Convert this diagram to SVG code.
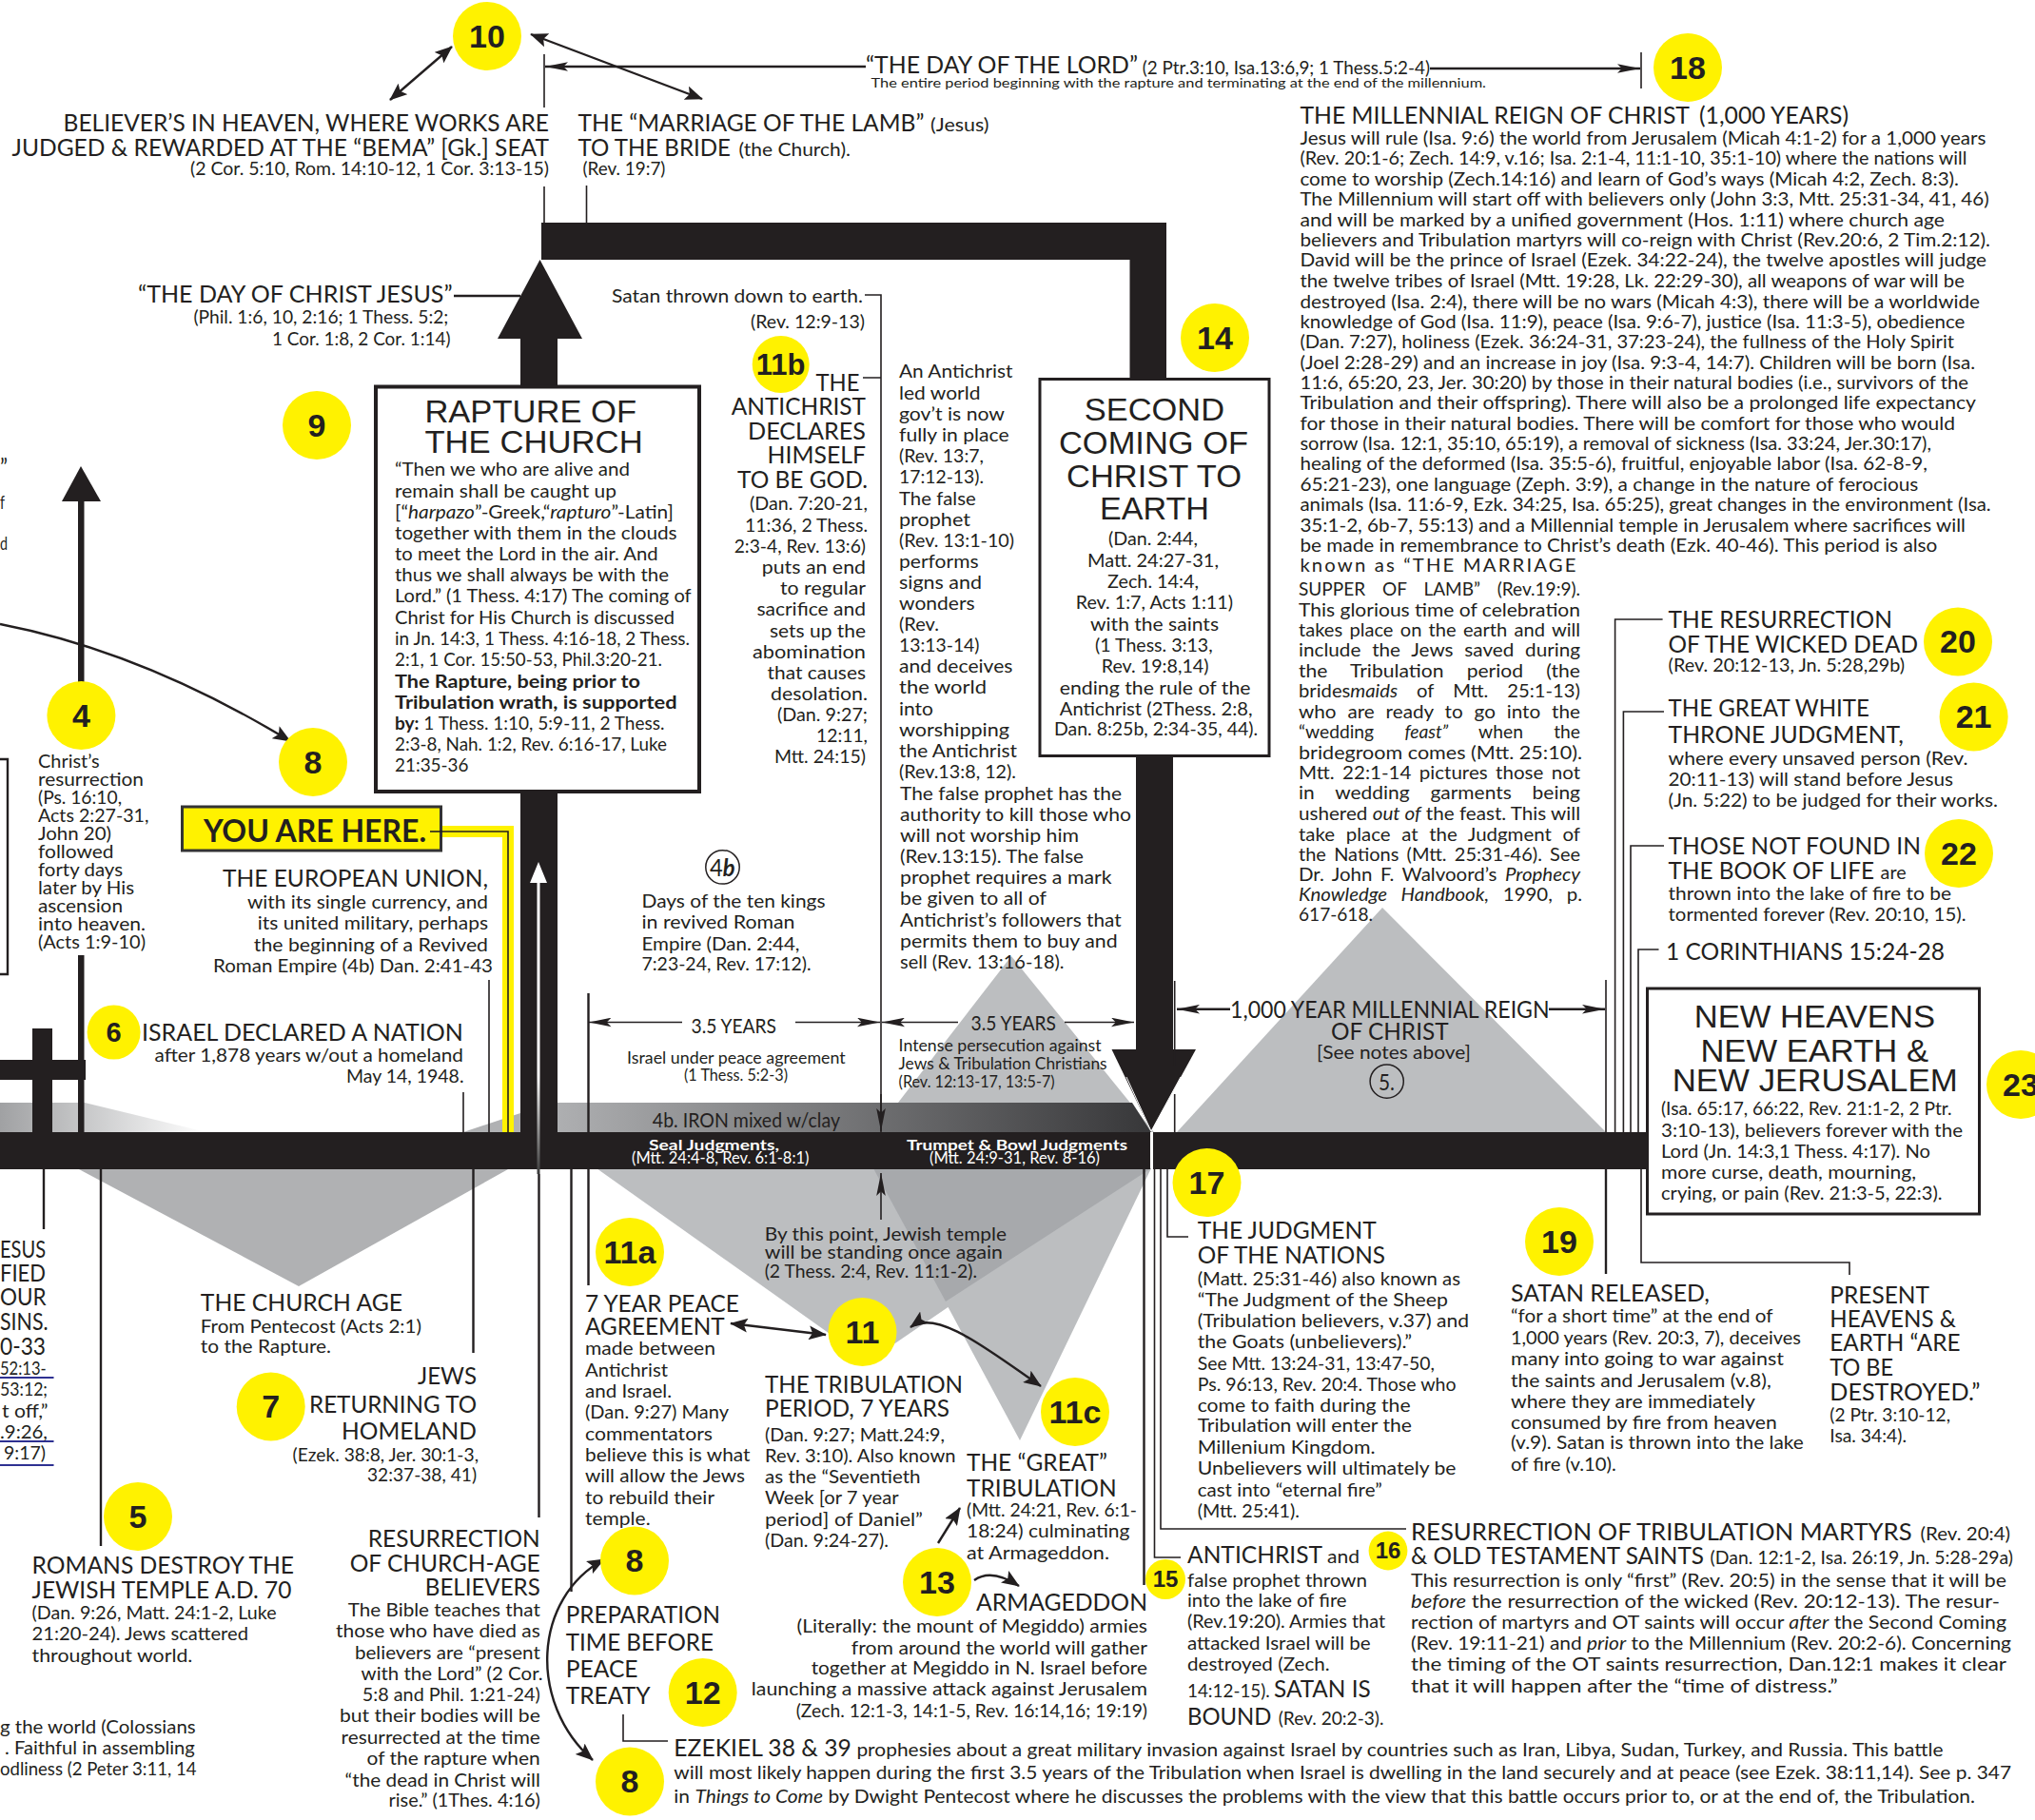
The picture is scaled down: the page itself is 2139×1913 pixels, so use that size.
<svg xmlns="http://www.w3.org/2000/svg" width="2139" height="1913" viewBox="0 0 2139 1913">
<style>
text{fill:#231f20;font-family:"Lato","Open Sans","Liberation Sans",sans-serif}
.h{font-size:25px}.b{font-size:19px}.s{font-size:17px}
.t{font-family:"Liberation Sans",sans-serif;font-size:33px}
.n{font-family:"Liberation Sans",sans-serif;font-weight:bold;font-size:34px;text-anchor:middle}
.y{fill:#fff200}
.l{fill:none;stroke:#231f20;stroke-width:1.6}
.m{fill:none;stroke:#231f20;stroke-width:2.4}
.k{fill:#231f20}
.box{fill:#fff;stroke:#231f20}
.i{font-style:italic}
.w{fill:#fff}
</style>
<defs>
<marker id="ah" viewBox="0 0 10 8" refX="9.5" refY="4" markerWidth="19" markerHeight="15" markerUnits="userSpaceOnUse" orient="auto-start-reverse"><path d="M0,0L10,4L0,8L2,4z" fill="#231f20"/></marker>
<marker id="al" viewBox="0 0 10 4" refX="10" refY="2" markerWidth="24" markerHeight="10" markerUnits="userSpaceOnUse" orient="auto-start-reverse"><path d="M0,0L10,2L0,4L2,2z" fill="#231f20"/></marker>
<linearGradient id="g1" gradientUnits="userSpaceOnUse" x1="0" y1="0" x2="217" y2="0"><stop offset="0" stop-color="#a0a1a3"/><stop offset="1" stop-color="#fff"/></linearGradient>
<linearGradient id="g2" gradientUnits="userSpaceOnUse" x1="586" y1="0" x2="1205" y2="0"><stop offset="0" stop-color="#aeafb1"/><stop offset="1" stop-color="#38383a"/></linearGradient>
<linearGradient id="g3" gradientUnits="userSpaceOnUse" x1="0" y1="1130" x2="0" y2="1234"><stop offset="0" stop-color="#fff"/><stop offset="1" stop-color="#3a3a3a"/></linearGradient>
</defs>
<g id="backdrops">
<polygon points="0,1159 89,1159 217,1190 0,1190" fill="url(#g1)"/>
<polygon points="487,1190 547,1170 547,1190" fill="#b0b1b3"/>
<polygon points="83,1229 314,1352 534,1229" fill="#b0b1b3"/>
<polygon points="1063,1005 1213,1190 920,1190" fill="#bcbec0"/>
<polygon points="586,1159 1190,1159 1210,1190 586,1190" fill="url(#g2)"/>
<polygon points="627,1228 913,1431 1210,1228" fill="#bcbec0"/>
<polygon points="918,1228 1072,1514 1210,1228" fill="#bcbec0"/>
<polygon points="918,1228 994,1368 1210,1228" fill="#a7a9ac"/>
<polygon points="1453,954 1688,1190 1237,1190" fill="#bcbec0"/>
<rect x="528" y="1170" width="12" height="20" class="y"/>
</g>
<g id="yellow-path">
<path d="M464,874H534V1190" fill="none" stroke="#fff200" stroke-width="12"/>
</g>
<g id="timeline">
<rect x="0" y="1190" width="1209" height="39" class="k"/>
<rect x="1212" y="1190" width="518" height="39" class="k"/>
<path class="k" d="M569,234H1226V400H1187.500V273H569z"/>
<rect x="547" y="350" width="39" height="840" class="k"/>
<polygon points="567.500,273 612,356 523,356" class="k"/>
<rect x="1194" y="790" width="39" height="320" class="k"/>
<polygon points="1168.500,1103 1257,1103 1210,1189" class="k"/>
<path d="M1184,1132L1210,1189L1241,1132" fill="none" stroke="#fff" stroke-width="1"/>
<rect x="82" y="520" width="6.500" height="200" class="k"/>
<rect x="82" y="1004" width="6.500" height="186" class="k"/>
<polygon points="85,490 106,527 65,527" class="k"/>
<rect x="34" y="1081" width="21" height="110" class="k"/>
<rect x="0" y="1114" width="90" height="21" class="k"/>
<rect x="564.500" y="928" width="3" height="306" fill="url(#g3)"/>
<polygon points="566,906 575,928 557,928" class="w"/>
</g>
<g id="connectors">
<path class="l" d="M572,57V113M572,196V234M616.500,195V234"/>
<path class="l" d="M1725,55V93"/>
<path class="m" d="M910,70H573" marker-end="url(#al)"/>
<path class="m" d="M1503,72H1724" marker-end="url(#al)"/>
<path class="m" d="M475,49L410,105" marker-start="url(#ah)" marker-end="url(#ah)"/>
<path class="m" d="M558,36L738,104" marker-start="url(#ah)" marker-end="url(#ah)"/>
<path class="m" d="M477,311H547"/>
<path class="l" d="M909,310H926V1190M907,397H926"/>
<path class="l" d="M926,1150V1189" marker-end="url(#al)"/>
<path class="l" d="M926,1282V1233" marker-end="url(#al)"/>
<path class="m" d="M0,656Q150,685 305,779" marker-end="url(#ah)"/>
<path class="l" d="M452,874H534V1190"/>
<path class="l" d="M514,1030V1190M487,1148V1190"/>
<path class="m" d="M46,1229V1292M106,1229V1625M497.500,1229V1422M566.500,1234V1595M600.500,1229V1673M618.500,1044V1190M618.500,1229V1351"/>
<path class="l" d="M618.500,1074.500H717" marker-start="url(#al)"/>
<path class="l" d="M836,1074.500H925" marker-end="url(#al)"/>
<path class="l" d="M927,1074.500H1007" marker-start="url(#al)"/>
<path class="l" d="M1119,1074.500H1192" marker-end="url(#al)"/>
<path class="m" d="M1237,1060.700H1293" marker-start="url(#al)"/>
<path class="m" d="M1628,1060.700H1687" marker-end="url(#al)"/>
<path class="l" d="M1234.700,1031V1120M1234.700,1150V1190M1688,1030V1190"/>
<path class="l" d="M1747.600,651H1697.600V1190M1749,748H1706.400V1190M1749,889H1714V1190M1743.500,998H1722V1190"/>
<path class="m" d="M1202.500,1228V1666"/>
<path class="l" d="M1213.500,1228V1637H1241M1220,1228V1607H1478M1227,1228V1300H1249"/>
<path class="m" d="M1688,1228V1339"/>
<path class="l" d="M1725,1228V1327H1944V1340"/>
<path class="l" d="M655,1802V1830H702"/>
<path class="m" d="M768,1391L868,1403" marker-start="url(#ah)" marker-end="url(#ah)"/>
<path class="m" d="M957,1395C985,1375 1040,1420 1094,1457" marker-start="url(#ah)" marker-end="url(#ah)"/>
<path class="m" d="M986,1622L1009,1585" marker-end="url(#ah)"/>
<path class="m" d="M1024,1661Q1042,1648 1071,1667" marker-end="url(#ah)"/>
<path class="m" d="M635,1639C560,1680 555,1790 623,1850" marker-start="url(#ah)" marker-end="url(#ah)"/>
<path d="M0,1448H56.500M0,1515H56.500M0,1540H56.500" fill="none" stroke="#2e3192" stroke-width="2"/>
<path d="M0,798H8V1024H0" fill="none" stroke="#231f20" stroke-width="2.400"/>
</g>
<g id="n10"><ellipse class="y" cx="512" cy="38" rx="36" ry="36"/><text class="n" x="512" y="50">10</text></g>
<g id="n18"><ellipse class="y" cx="1774" cy="71" rx="36" ry="36"/><text class="n" x="1774" y="83">18</text></g>
<g id="n9"><ellipse class="y" cx="333" cy="447" rx="36" ry="36"/><text class="n" x="333" y="459">9</text></g>
<g id="n11b"><ellipse class="y" cx="820.700" cy="383" rx="30" ry="30"/><text class="n" x="820.700" y="394" style="font-size:31px">11b</text></g>
<g id="n14"><ellipse class="y" cx="1277" cy="355" rx="36" ry="36"/><text class="n" x="1277" y="367">14</text></g>
<g id="n4"><ellipse class="y" cx="85.400" cy="752" rx="36" ry="36"/><text class="n" x="85.400" y="764">4</text></g>
<g id="n8a"><ellipse class="y" cx="329" cy="801" rx="36" ry="36"/><text class="n" x="329" y="813">8</text></g>
<g id="n6"><ellipse class="y" cx="119.600" cy="1085" rx="28" ry="28.600"/><text class="n" x="119.600" y="1095" style="font-size:29px">6</text></g>
<g id="n7"><ellipse class="y" cx="284.700" cy="1478.400" rx="36" ry="36"/><text class="n" x="284.700" y="1490">7</text></g>
<g id="n5"><ellipse class="y" cx="145" cy="1594" rx="36" ry="36"/><text class="n" x="145" y="1606">5</text></g>
<g id="n11a"><ellipse class="y" cx="662" cy="1316" rx="36" ry="36"/><text class="n" x="662" y="1328">11a</text></g>
<g id="n11"><ellipse class="y" cx="906.500" cy="1400" rx="36" ry="36"/><text class="n" x="906.500" y="1412">11</text></g>
<g id="n11c"><ellipse class="y" cx="1130" cy="1484" rx="36" ry="36"/><text class="n" x="1130" y="1496">11c</text></g>
<g id="n13"><ellipse class="y" cx="985" cy="1663" rx="36" ry="36"/><text class="n" x="985" y="1675">13</text></g>
<g id="n8b"><ellipse class="y" cx="667" cy="1640.600" rx="36" ry="36"/><text class="n" x="667" y="1652">8</text></g>
<g id="n12"><ellipse class="y" cx="738.700" cy="1779" rx="36" ry="36"/><text class="n" x="738.700" y="1791">12</text></g>
<g id="n8c"><ellipse class="y" cx="662" cy="1872.500" rx="36" ry="36"/><text class="n" x="662" y="1884">8</text></g>
<g id="n17"><ellipse class="y" cx="1268.500" cy="1243" rx="36" ry="36"/><text class="n" x="1268.500" y="1255">17</text></g>
<g id="n19"><ellipse class="y" cx="1639" cy="1305" rx="36" ry="36"/><text class="n" x="1639" y="1317">19</text></g>
<g id="n15"><ellipse class="y" cx="1225" cy="1660" rx="21" ry="21"/><text class="n" x="1225" y="1668" style="font-size:24px">15</text></g>
<g id="n16"><ellipse class="y" cx="1459" cy="1630" rx="20.400" ry="20.400"/><text class="n" x="1459" y="1638" style="font-size:24px">16</text></g>
<g id="n20"><ellipse class="y" cx="2058" cy="674.500" rx="36" ry="36"/><text class="n" x="2058" y="686">20</text></g>
<g id="n21"><ellipse class="y" cx="2074.600" cy="753.600" rx="36" ry="36"/><text class="n" x="2074.600" y="765">21</text></g>
<g id="n22"><ellipse class="y" cx="2059" cy="897" rx="36" ry="36"/><text class="n" x="2059" y="909">22</text></g>
<g id="n23"><ellipse class="y" cx="2124" cy="1140" rx="36" ry="36"/><text class="n" x="2124" y="1152">23</text></g>

<g id="rapture">
<rect class="box" x="395" y="406.500" width="340" height="425.500" stroke-width="4"/>
<text class="t" x="446.400" y="444" textLength="222.600" lengthAdjust="spacingAndGlyphs">RAPTURE OF</text>
<text class="t" x="446.400" y="476" textLength="229.300" lengthAdjust="spacingAndGlyphs">THE CHURCH</text>
<g class="b">
<text x="415" y="499.600" textLength="247" lengthAdjust="spacingAndGlyphs">“Then we who are alive and</text>
<text x="415" y="522.500" textLength="233" lengthAdjust="spacingAndGlyphs">remain shall be caught up</text>
<text x="415" y="544.500" textLength="293" lengthAdjust="spacingAndGlyphs">[“<tspan class="i">harpazo</tspan>”-Greek,“<tspan class="i">rapturo</tspan>”-Latin]</text>
<text x="415" y="566.500" textLength="296.600" lengthAdjust="spacingAndGlyphs">together with them in the clouds</text>
<text x="415" y="588.500" textLength="276.700" lengthAdjust="spacingAndGlyphs">to meet the Lord in the air. And</text>
<text x="415" y="611.400" textLength="288" lengthAdjust="spacingAndGlyphs">thus we shall always be with the</text>
<text x="415" y="633.300" textLength="311.600" lengthAdjust="spacingAndGlyphs">Lord.” (1 Thess. 4:17) The coming of</text>
<text x="415" y="655.500" textLength="294" lengthAdjust="spacingAndGlyphs">Christ for His Church is discussed</text>
<text x="415" y="677.500" textLength="310" lengthAdjust="spacingAndGlyphs">in Jn. 14:3, 1 Thess. 4:16-18, 2 Thess.</text>
<text x="415" y="699.600" textLength="281" lengthAdjust="spacingAndGlyphs">2:1, 1 Cor. 15:50-53, Phil.3:20-21.</text>
<text x="415" y="722.500" textLength="258" lengthAdjust="spacingAndGlyphs" font-weight="bold">The Rapture, being prior to</text>
<text x="415" y="744.500" textLength="296.600" lengthAdjust="spacingAndGlyphs" font-weight="bold">Tribulation wrath, is supported</text>
<text x="415" y="766.500" textLength="283.500" lengthAdjust="spacingAndGlyphs"><tspan font-weight="bold">by:</tspan> 1 Thess. 1:10, 5:9-11, 2 Thess.</text>
<text x="415" y="788.500" textLength="286" lengthAdjust="spacingAndGlyphs">2:3-8, Nah. 1:2, Rev. 6:16-17, Luke</text>
<text x="415" y="810.600" textLength="77.500" lengthAdjust="spacingAndGlyphs">21:35-36</text>
</g>
</g>
<g id="second-coming">
<rect class="box" x="1093" y="398.500" width="241" height="396" stroke-width="3"/>
<text class="t" x="1139.800" y="441.700" textLength="147.200" lengthAdjust="spacingAndGlyphs">SECOND</text>
<text class="t" x="1113" y="476.500" textLength="199" lengthAdjust="spacingAndGlyphs">COMING OF</text>
<text class="t" x="1121" y="512" textLength="184" lengthAdjust="spacingAndGlyphs">CHRIST TO</text>
<text class="t" x="1156" y="545.700" textLength="115" lengthAdjust="spacingAndGlyphs">EARTH</text>
<g class="b">
<text x="1165" y="573" textLength="94" lengthAdjust="spacingAndGlyphs">(Dan. 2:44,</text>
<text x="1143" y="596" textLength="138" lengthAdjust="spacingAndGlyphs">Matt. 24:27-31,</text>
<text x="1164" y="618" textLength="96" lengthAdjust="spacingAndGlyphs">Zech. 14:4,</text>
<text x="1130.700" y="640" textLength="165.300" lengthAdjust="spacingAndGlyphs">Rev. 1:7, Acts 1:11)</text>
<text x="1146" y="662.500" textLength="135" lengthAdjust="spacingAndGlyphs">with the saints</text>
<text x="1151" y="685" textLength="123.600" lengthAdjust="spacingAndGlyphs">(1 Thess. 3:13,</text>
<text x="1157.700" y="707" textLength="112.800" lengthAdjust="spacingAndGlyphs">Rev. 19:8,14)</text>
<text x="1113.800" y="729.500" textLength="200.700" lengthAdjust="spacingAndGlyphs">ending the rule of the</text>
<text x="1113.800" y="751.800" textLength="202.700" lengthAdjust="spacingAndGlyphs">Antichrist (2Thess. 2:8,</text>
<text x="1108" y="773" textLength="214" lengthAdjust="spacingAndGlyphs">Dan. 8:25b, 2:34-35, 44).</text>
</g>
</g>
<g id="new-heavens">
<rect class="box" x="1731.500" y="1039" width="349" height="237" stroke-width="3"/>
<text class="t" x="1780.700" y="1080" textLength="253.300" lengthAdjust="spacingAndGlyphs">NEW HEAVENS</text>
<text class="t" x="1787.400" y="1115.600" textLength="239.600" lengthAdjust="spacingAndGlyphs">NEW EARTH &amp;</text>
<text class="t" x="1757.700" y="1147" textLength="300" lengthAdjust="spacingAndGlyphs">NEW JERUSALEM</text>
<g class="b">
<text x="1746" y="1172" textLength="305.600" lengthAdjust="spacingAndGlyphs">(Isa. 65:17, 66:22, Rev. 21:1-2, 2 Ptr.</text>
<text x="1746" y="1194.600" textLength="317" lengthAdjust="spacingAndGlyphs">3:10-13), believers forever with the</text>
<text x="1746" y="1217" textLength="283" lengthAdjust="spacingAndGlyphs">Lord (Jn. 14:3,1 Thess. 4:17). No</text>
<text x="1746" y="1239" textLength="268" lengthAdjust="spacingAndGlyphs">more curse, death, mourning,</text>
<text x="1746" y="1260.700" textLength="295.500" lengthAdjust="spacingAndGlyphs">crying, or pain (Rev. 21:3-5, 22:3).</text>
</g>
</g>
<g id="you-are-here">
<rect class="y" x="191.500" y="848" width="272" height="46" stroke="#333" stroke-width="3"/>
<text x="214" y="885" textLength="234" lengthAdjust="spacingAndGlyphs" font-weight="bold" font-size="33">YOU ARE HERE.</text>
<path class="l" d="M452,874H465"/>
</g>
<g id="top-labels">
<text class="h" x="66.600" y="138" textLength="510.400" lengthAdjust="spacingAndGlyphs">BELIEVER’S IN HEAVEN, WHERE WORKS ARE</text>
<text class="h" x="12.600" y="164" textLength="564.400" lengthAdjust="spacingAndGlyphs">JUDGED &amp; REWARDED AT THE “BEMA” [Gk.] SEAT</text>
<text class="b" x="200" y="184" textLength="377" lengthAdjust="spacingAndGlyphs">(2 Cor. 5:10, Rom. 14:10-12, 1 Cor. 3:13-15)</text>
<text class="h" x="607.500" y="138" textLength="364" lengthAdjust="spacingAndGlyphs">THE “MARRIAGE OF THE LAMB”</text>
<text class="b" x="978" y="138" textLength="61.600" lengthAdjust="spacingAndGlyphs">(Jesus)</text>
<text class="h" x="607.500" y="164" textLength="160.500" lengthAdjust="spacingAndGlyphs">TO THE BRIDE</text>
<text class="b" x="776.600" y="164" textLength="117.400" lengthAdjust="spacingAndGlyphs">(the Church).</text>
<text class="b" x="612.400" y="184" textLength="87" lengthAdjust="spacingAndGlyphs">(Rev. 19:7)</text>
<text class="h" x="910" y="77" textLength="286" lengthAdjust="spacingAndGlyphs">“THE DAY OF THE LORD”</text>
<text class="b" x="1200.700" y="78" textLength="302.300" lengthAdjust="spacingAndGlyphs">(2 Ptr.3:10, Isa.13:6,9; 1 Thess.5:2-4)</text>
<text x="915.500" y="92" textLength="646.500" lengthAdjust="spacingAndGlyphs" font-size="14">The entire period beginning with the rapture and terminating at the end of the millennium.</text>
<text class="h" x="145" y="317.700" textLength="330.600" lengthAdjust="spacingAndGlyphs">“THE DAY OF CHRIST JESUS”</text>
<text class="b" x="203.400" y="340" textLength="268" lengthAdjust="spacingAndGlyphs">(Phil. 1:6, 10, 2:16; 1 Thess. 5:2;</text>
<text class="b" x="286" y="362.700" textLength="187.500" lengthAdjust="spacingAndGlyphs">1 Cor. 1:8, 2 Cor. 1:14)</text>
<text class="b" x="643" y="317.700" textLength="264" lengthAdjust="spacingAndGlyphs">Satan thrown down to earth.</text>
<text class="b" x="789" y="345" textLength="120" lengthAdjust="spacingAndGlyphs">(Rev. 12:9-13)</text>
</g>
<g id="antichrist-declares">
<text class="h" x="857.500" y="410.600" textLength="46" lengthAdjust="spacingAndGlyphs">THE</text>
<text class="h" x="768.700" y="436" textLength="141.300" lengthAdjust="spacingAndGlyphs">ANTICHRIST</text>
<text class="h" x="786" y="461.600" textLength="124" lengthAdjust="spacingAndGlyphs">DECLARES</text>
<text class="h" x="806.600" y="487" textLength="103.400" lengthAdjust="spacingAndGlyphs">HIMSELF</text>
<text class="h" x="775" y="512.600" textLength="137" lengthAdjust="spacingAndGlyphs">TO BE GOD.</text>
<g class="b">
<text x="788" y="536" textLength="124" lengthAdjust="spacingAndGlyphs">(Dan. 7:20-21,</text>
<text x="783" y="558.800" textLength="129" lengthAdjust="spacingAndGlyphs">11:36, 2 Thess.</text>
<text x="771.700" y="581" textLength="138.300" lengthAdjust="spacingAndGlyphs">2:3-4, Rev. 13:6)</text>
<text x="800.700" y="603" textLength="109.300" lengthAdjust="spacingAndGlyphs">puts an end</text>
<text x="820" y="625" textLength="90" lengthAdjust="spacingAndGlyphs">to regular</text>
<text x="795.400" y="647" textLength="114.600" lengthAdjust="spacingAndGlyphs">sacrifice and</text>
<text x="809" y="669.500" textLength="101" lengthAdjust="spacingAndGlyphs">sets up the</text>
<text x="791" y="691.800" textLength="119" lengthAdjust="spacingAndGlyphs">abomination</text>
<text x="806.600" y="714" textLength="103.400" lengthAdjust="spacingAndGlyphs">that causes</text>
<text x="810" y="736" textLength="102" lengthAdjust="spacingAndGlyphs">desolation.</text>
<text x="817" y="758" textLength="95" lengthAdjust="spacingAndGlyphs">(Dan. 9:27;</text>
<text x="858" y="780" textLength="54" lengthAdjust="spacingAndGlyphs">12:11,</text>
<text x="814" y="802" textLength="96" lengthAdjust="spacingAndGlyphs">Mtt. 24:15)</text>
</g>
</g>
<g id="antichrist-world" class="b">
<text x="945" y="397" textLength="119.500" lengthAdjust="spacingAndGlyphs">An Antichrist</text>
<text x="945" y="419.500" textLength="85.500" lengthAdjust="spacingAndGlyphs">led world</text>
<text x="945" y="442" textLength="111" lengthAdjust="spacingAndGlyphs">gov’t is now</text>
<text x="945" y="464.300" textLength="115.600" lengthAdjust="spacingAndGlyphs">fully in place</text>
<text x="945" y="486" textLength="89" lengthAdjust="spacingAndGlyphs">(Rev. 13:7,</text>
<text x="945" y="508" textLength="89" lengthAdjust="spacingAndGlyphs">17:12-13).</text>
<text x="945" y="530.500" textLength="80.700" lengthAdjust="spacingAndGlyphs">The false</text>
<text x="945" y="552.500" textLength="75" lengthAdjust="spacingAndGlyphs">prophet</text>
<text x="945" y="574.500" textLength="121" lengthAdjust="spacingAndGlyphs">(Rev. 13:1-10)</text>
<text x="945" y="597" textLength="83.600" lengthAdjust="spacingAndGlyphs">performs</text>
<text x="945" y="619" textLength="87" lengthAdjust="spacingAndGlyphs">signs and</text>
<text x="945" y="641" textLength="79.700" lengthAdjust="spacingAndGlyphs">wonders</text>
<text x="945" y="663" textLength="42" lengthAdjust="spacingAndGlyphs">(Rev.</text>
<text x="945" y="685" textLength="84.500" lengthAdjust="spacingAndGlyphs">13:13-14)</text>
<text x="945" y="707" textLength="119.500" lengthAdjust="spacingAndGlyphs">and deceives</text>
<text x="945" y="729" textLength="92" lengthAdjust="spacingAndGlyphs">the world</text>
<text x="945" y="751.600" textLength="36" lengthAdjust="spacingAndGlyphs">into</text>
<text x="945" y="774" textLength="116" lengthAdjust="spacingAndGlyphs">worshipping</text>
<text x="945" y="796" textLength="124" lengthAdjust="spacingAndGlyphs">the Antichrist</text>
<text x="945" y="818" textLength="123" lengthAdjust="spacingAndGlyphs">(Rev.13:8, 12).</text>
<text x="946" y="841" textLength="233" lengthAdjust="spacingAndGlyphs">The false prophet has the</text>
<text x="946" y="863" textLength="243" lengthAdjust="spacingAndGlyphs">authority to kill those who</text>
<text x="946" y="885" textLength="188" lengthAdjust="spacingAndGlyphs">will not worship him</text>
<text x="946" y="907" textLength="193" lengthAdjust="spacingAndGlyphs">(Rev.13:15). The false</text>
<text x="946" y="929" textLength="222.500" lengthAdjust="spacingAndGlyphs">prophet requires a mark</text>
<text x="946" y="951" textLength="154" lengthAdjust="spacingAndGlyphs">be given to all of</text>
<text x="946" y="974" textLength="232.600" lengthAdjust="spacingAndGlyphs">Antichrist’s followers that</text>
<text x="946" y="996" textLength="228.600" lengthAdjust="spacingAndGlyphs">permits them to buy and</text>
<text x="946" y="1018" textLength="172.500" lengthAdjust="spacingAndGlyphs">sell (Rev. 13:16-18).</text>
</g>
<g id="millennial">
<text class="h" x="1366.400" y="129.700" textLength="409.600" lengthAdjust="spacingAndGlyphs">THE MILLENNIAL REIGN OF CHRIST</text>
<text class="h" x="1786" y="129.700" textLength="157" lengthAdjust="spacingAndGlyphs">(1,000 YEARS)</text>
<g class="b">
<text x="1366.400" y="152" textLength="721" lengthAdjust="spacingAndGlyphs">Jesus will rule (Isa. 9:6) the world from Jerusalem (Micah 4:1-2) for a 1,000 years</text>
<text x="1366.400" y="173" textLength="701" lengthAdjust="spacingAndGlyphs">(Rev. 20:1-6; Zech. 14:9, v.16; Isa. 2:1-4, 11:1-10, 35:1-10) where the nations will</text>
<text x="1366.400" y="195" textLength="692.600" lengthAdjust="spacingAndGlyphs">come to worship (Zech.14:16) and learn of God’s ways (Micah 4:2, Zech. 8:3).</text>
<text x="1366.400" y="216" textLength="724.300" lengthAdjust="spacingAndGlyphs">The Millennium will start off with believers only (John 3:3, Mtt. 25:31-34, 41, 46)</text>
<text x="1366.400" y="238" textLength="677.600" lengthAdjust="spacingAndGlyphs">and will be marked by a unified government (Hos. 1:11) where church age</text>
<text x="1366.400" y="259" textLength="725.600" lengthAdjust="spacingAndGlyphs">believers and Tribulation martyrs will co-reign with Christ (Rev.20:6, 2 Tim.2:12).</text>
<text x="1366.400" y="280" textLength="721.600" lengthAdjust="spacingAndGlyphs">David will be the prince of Israel (Ezek. 34:22-24), the twelve apostles will judge</text>
<text x="1366.400" y="302" textLength="698.600" lengthAdjust="spacingAndGlyphs">the twelve tribes of Israel (Mtt. 19:28, Lk. 22:29-30), all weapons of war will be</text>
<text x="1366.400" y="323.500" textLength="714.600" lengthAdjust="spacingAndGlyphs">destroyed (Isa. 2:4), there will be no wars (Micah 4:3), there will be a worldwide</text>
<text x="1366.400" y="345" textLength="699" lengthAdjust="spacingAndGlyphs">knowledge of God (Isa. 11:9), peace (Isa. 9:6-7), justice (Isa. 11:3-5), obedience</text>
<text x="1366.400" y="366" textLength="687.600" lengthAdjust="spacingAndGlyphs">(Dan. 7:27), holiness (Ezek. 36:24-31, 37:23-24), the fullness of the Holy Spirit</text>
<text x="1366.400" y="387.500" textLength="709.600" lengthAdjust="spacingAndGlyphs">(Joel 2:28-29) and an increase in joy (Isa. 9:3-4, 14:7). Children will be born (Isa.</text>
<text x="1366.400" y="409" textLength="702.600" lengthAdjust="spacingAndGlyphs">11:6, 65:20, 23, Jer. 30:20) by those in their natural bodies (i.e., survivors of the</text>
<text x="1366.400" y="430" textLength="710.600" lengthAdjust="spacingAndGlyphs">Tribulation and their offspring). There will also be a prolonged life expectancy</text>
<text x="1366.400" y="452" textLength="688.600" lengthAdjust="spacingAndGlyphs">for those in their natural bodies. There will be comfort for those who would</text>
<text x="1366.400" y="473" textLength="663.600" lengthAdjust="spacingAndGlyphs">sorrow (Isa. 12:1, 35:10, 65:19), a removal of sickness (Isa. 33:24, Jer.30:17),</text>
<text x="1366.400" y="494" textLength="659.600" lengthAdjust="spacingAndGlyphs">healing of the deformed (Isa. 35:5-6), fruitful, enjoyable labor (Isa. 62-8-9,</text>
<text x="1366.400" y="516" textLength="650" lengthAdjust="spacingAndGlyphs">65:21-23), one language (Zeph. 3:9), a change in the nature of ferocious</text>
<text x="1366.400" y="537" textLength="726.300" lengthAdjust="spacingAndGlyphs">animals (Isa. 11:6-9, Ezk. 34:25, Isa. 65:25), great changes in the environment (Isa.</text>
<text x="1366.400" y="559" textLength="699.600" lengthAdjust="spacingAndGlyphs">35:1-2, 6b-7, 55:13) and a Millennial temple in Jerusalem where sacrifices will</text>
<text x="1366.400" y="580" textLength="670" lengthAdjust="spacingAndGlyphs">be made in remembrance to Christ’s death (Ezk. 40-46). This period is also</text>
<text x="1366.400" y="601" textLength="292.200" lengthAdjust="spacingAndGlyphs" letter-spacing="2">known as “THE MARRIAGE</text>
<text x="1365" y="626" textLength="296" lengthAdjust="spacingAndGlyphs" word-spacing="13">SUPPER OF LAMB” (Rev.19:9).</text>
<text x="1365" y="648" textLength="296" lengthAdjust="spacingAndGlyphs">This glorious time of celebration</text>
<text x="1365" y="669" textLength="296" lengthAdjust="spacingAndGlyphs" word-spacing="2">takes place on the earth and will</text>
<text x="1365" y="690" textLength="296" lengthAdjust="spacingAndGlyphs" word-spacing="6">include the Jews saved during</text>
<text x="1365" y="712" textLength="296" lengthAdjust="spacingAndGlyphs" word-spacing="17">the Tribulation period (the</text>
<text x="1365" y="733" textLength="296" lengthAdjust="spacingAndGlyphs" word-spacing="14">brides<tspan class="i">maids</tspan> of Mtt. 25:1-13)</text>
<text x="1365" y="755" textLength="296" lengthAdjust="spacingAndGlyphs" word-spacing="6">who are ready to go into the</text>
<text x="1365" y="776" textLength="296" lengthAdjust="spacingAndGlyphs" word-spacing="27">“wedding <tspan class="i">feast”</tspan> when the</text>
<text x="1365" y="798" textLength="298" lengthAdjust="spacingAndGlyphs">bridegroom comes (Mtt. 25:10).</text>
<text x="1365" y="819" textLength="296" lengthAdjust="spacingAndGlyphs" word-spacing="3">Mtt. 22:1-14 pictures those not</text>
<text x="1365" y="840" textLength="296" lengthAdjust="spacingAndGlyphs" word-spacing="15">in wedding garments being</text>
<text x="1365" y="862" textLength="296" lengthAdjust="spacingAndGlyphs">ushered <tspan class="i">out of</tspan> the feast. This will</text>
<text x="1365" y="883.500" textLength="296" lengthAdjust="spacingAndGlyphs" word-spacing="6">take place at the Judgment of</text>
<text x="1365" y="905" textLength="296" lengthAdjust="spacingAndGlyphs" word-spacing="3">the Nations (Mtt. 25:31-46). See</text>
<text x="1365" y="926" textLength="296" lengthAdjust="spacingAndGlyphs" word-spacing="3">Dr. John F. Walvoord’s <tspan class="i">Prophecy</tspan></text>
<text x="1365" y="947" textLength="298" lengthAdjust="spacingAndGlyphs" word-spacing="9"><tspan class="i">Knowledge Handbook,</tspan> 1990, p.</text>
<text x="1365" y="968" textLength="78" lengthAdjust="spacingAndGlyphs">617-618.</text>
</g>
</g>
<g id="right-labels">
<text class="h" x="1753.600" y="660" textLength="235.400" lengthAdjust="spacingAndGlyphs">THE RESURRECTION</text>
<text class="h" x="1753.600" y="685.700" textLength="262.400" lengthAdjust="spacingAndGlyphs">OF THE WICKED DEAD</text>
<text class="b" x="1753.600" y="705.800" textLength="248.400" lengthAdjust="spacingAndGlyphs">(Rev. 20:12-13, Jn. 5:28,29b)</text>
<text class="h" x="1753.600" y="753" textLength="211.400" lengthAdjust="spacingAndGlyphs">THE GREAT WHITE</text>
<text class="h" x="1753.600" y="780.800" textLength="247.400" lengthAdjust="spacingAndGlyphs">THRONE JUDGMENT,</text>
<text class="b" x="1753.600" y="804" textLength="314.900" lengthAdjust="spacingAndGlyphs">where every unsaved person (Rev.</text>
<text class="b" x="1753.600" y="826" textLength="299.400" lengthAdjust="spacingAndGlyphs">20:11-13) will stand before Jesus</text>
<text class="b" x="1753.600" y="847.800" textLength="346.400" lengthAdjust="spacingAndGlyphs">(Jn. 5:22) to be judged for their works.</text>
<text class="h" x="1753.600" y="897.800" textLength="265.400" lengthAdjust="spacingAndGlyphs">THOSE NOT FOUND IN</text>
<text class="h" x="1753.600" y="923.700" textLength="216.400" lengthAdjust="spacingAndGlyphs">THE BOOK OF LIFE</text>
<text class="b" x="1976.600" y="923.700" textLength="27" lengthAdjust="spacingAndGlyphs">are</text>
<text class="b" x="1753.600" y="946" textLength="297.400" lengthAdjust="spacingAndGlyphs">thrown into the lake of fire to be</text>
<text class="b" x="1753.600" y="968" textLength="312.900" lengthAdjust="spacingAndGlyphs">tormented forever (Rev. 20:10, 15).</text>
<text class="h" x="1751" y="1008.500" textLength="293" lengthAdjust="spacingAndGlyphs">1 CORINTHIANS 15:24-28</text>
<text class="h" x="1293" y="1069.600" textLength="335.600" lengthAdjust="spacingAndGlyphs">1,000 YEAR MILLENNIAL REIGN</text>
<text class="h" x="1399" y="1093" textLength="123.600" lengthAdjust="spacingAndGlyphs">OF CHRIST</text>
<text class="b" x="1384" y="1112.500" textLength="162" lengthAdjust="spacingAndGlyphs">[See notes above]</text>
<ellipse cx="1457.700" cy="1136.600" rx="17.600" ry="17.600" fill="none" stroke="#231f20" stroke-width="1.500"/>
<text x="1449" y="1145.500" textLength="17" lengthAdjust="spacingAndGlyphs" font-size="23">5.</text>
</g>
<g id="left-labels">
<text class="b" x="40" y="807" textLength="64.600" lengthAdjust="spacingAndGlyphs">Christ’s</text>
<text class="b" x="40" y="826" textLength="111" lengthAdjust="spacingAndGlyphs">resurrection</text>
<text class="b" x="40" y="845" textLength="88" lengthAdjust="spacingAndGlyphs">(Ps. 16:10,</text>
<text class="b" x="40" y="864" textLength="116.400" lengthAdjust="spacingAndGlyphs">Acts 2:27-31,</text>
<text class="b" x="40" y="883" textLength="77" lengthAdjust="spacingAndGlyphs">John 20)</text>
<text class="b" x="40" y="902" textLength="79.600" lengthAdjust="spacingAndGlyphs">followed</text>
<text class="b" x="40" y="921" textLength="89" lengthAdjust="spacingAndGlyphs">forty days</text>
<text class="b" x="40" y="940" textLength="101" lengthAdjust="spacingAndGlyphs">later by His</text>
<text class="b" x="40" y="959" textLength="89" lengthAdjust="spacingAndGlyphs">ascension</text>
<text class="b" x="40" y="978" textLength="113" lengthAdjust="spacingAndGlyphs">into heaven.</text>
<text class="b" x="40" y="997" textLength="113" lengthAdjust="spacingAndGlyphs">(Acts 1:9-10)</text>
<text class="h" x="234" y="932" textLength="279" lengthAdjust="spacingAndGlyphs">THE EUROPEAN UNION,</text>
<text class="b" x="260" y="954.500" textLength="253" lengthAdjust="spacingAndGlyphs">with its single currency, and</text>
<text class="b" x="270.700" y="976.800" textLength="242.300" lengthAdjust="spacingAndGlyphs">its united military, perhaps</text>
<text class="b" x="266.800" y="1000" textLength="246.200" lengthAdjust="spacingAndGlyphs">the beginning of a Revived</text>
<text class="b" x="224" y="1022" textLength="294" lengthAdjust="spacingAndGlyphs">Roman Empire (4b) Dan. 2:41-43</text>
<text class="h" x="149" y="1093.700" textLength="337.800" lengthAdjust="spacingAndGlyphs">ISRAEL DECLARED A NATION</text>
<text class="b" x="162.500" y="1116" textLength="324.500" lengthAdjust="spacingAndGlyphs">after 1,878 years w/out a homeland</text>
<text class="b" x="364" y="1138" textLength="123.500" lengthAdjust="spacingAndGlyphs">May 14, 1948.</text>
<text class="h" x="210.800" y="1378.400" textLength="212.200" lengthAdjust="spacingAndGlyphs">THE CHURCH AGE</text>
<text class="b" x="210.800" y="1400.700" textLength="232.200" lengthAdjust="spacingAndGlyphs">From Pentecost (Acts 2:1)</text>
<text class="b" x="210.800" y="1422.400" textLength="137.200" lengthAdjust="spacingAndGlyphs">to the Rapture.</text>
<text class="h" x="439" y="1455" textLength="62" lengthAdjust="spacingAndGlyphs">JEWS</text>
<text class="h" x="325" y="1484.600" textLength="176" lengthAdjust="spacingAndGlyphs">RETURNING TO</text>
<text class="h" x="359" y="1513" textLength="142" lengthAdjust="spacingAndGlyphs">HOMELAND</text>
<text class="b" x="307.600" y="1535.500" textLength="195.400" lengthAdjust="spacingAndGlyphs">(Ezek. 38:8, Jer. 30:1-3,</text>
<text class="b" x="386" y="1557" textLength="115" lengthAdjust="spacingAndGlyphs">32:37-38, 41)</text>
<text class="h" x="33.600" y="1653.600" textLength="275.400" lengthAdjust="spacingAndGlyphs">ROMANS DESTROY THE</text>
<text class="h" x="33.600" y="1679.600" textLength="272.800" lengthAdjust="spacingAndGlyphs">JEWISH TEMPLE A.D. 70</text>
<text class="b" x="33.600" y="1702" textLength="257" lengthAdjust="spacingAndGlyphs">(Dan. 9:26, Matt. 24:1-2, Luke</text>
<text class="b" x="33.600" y="1724" textLength="227.400" lengthAdjust="spacingAndGlyphs">21:20-24). Jews scattered</text>
<text class="b" x="33.600" y="1746.500" textLength="168.800" lengthAdjust="spacingAndGlyphs">throughout world.</text>
<text class="h" x="386.700" y="1626" textLength="181.100" lengthAdjust="spacingAndGlyphs">RESURRECTION</text>
<text class="h" x="367.700" y="1652" textLength="200.100" lengthAdjust="spacingAndGlyphs">OF CHURCH-AGE</text>
<text class="h" x="446.800" y="1676.500" textLength="121" lengthAdjust="spacingAndGlyphs">BELIEVERS</text>
<text class="b" x="365.800" y="1699" textLength="202" lengthAdjust="spacingAndGlyphs">The Bible teaches that</text>
<text class="b" x="353" y="1721" textLength="214.800" lengthAdjust="spacingAndGlyphs">those who have died as</text>
<text class="b" x="372.900" y="1744" textLength="194.900" lengthAdjust="spacingAndGlyphs">believers are “present</text>
<text class="b" x="379.600" y="1766" textLength="191" lengthAdjust="spacingAndGlyphs">with the Lord” (2 Cor.</text>
<text class="b" x="380.800" y="1788" textLength="187" lengthAdjust="spacingAndGlyphs">5:8 and Phil. 1:21-24)</text>
<text class="b" x="357" y="1810" textLength="210.800" lengthAdjust="spacingAndGlyphs">but their bodies will be</text>
<text class="b" x="358.600" y="1832.500" textLength="209.200" lengthAdjust="spacingAndGlyphs">resurrected at the time</text>
<text class="b" x="385.500" y="1854.800" textLength="182.300" lengthAdjust="spacingAndGlyphs">of the rapture when</text>
<text class="b" x="362.600" y="1877.600" textLength="205.200" lengthAdjust="spacingAndGlyphs">“the dead in Christ will</text>
<text class="b" x="408.500" y="1899" textLength="159.300" lengthAdjust="spacingAndGlyphs">rise.” (1Thes. 4:16)</text>
<text class="b" x="0" y="1821.600" textLength="205.600" lengthAdjust="spacingAndGlyphs">g the world (Colossians</text>
<text class="b" x="5" y="1844" textLength="199.800" lengthAdjust="spacingAndGlyphs">. Faithful in assembling</text>
<text class="b" x="0" y="1866" textLength="206.400" lengthAdjust="spacingAndGlyphs">odliness (2 Peter 3:11, 14</text>
<text class="h" x="0" y="1322" textLength="48" lengthAdjust="spacingAndGlyphs">ESUS</text>
<text class="h" x="0" y="1346.800" textLength="48" lengthAdjust="spacingAndGlyphs">FIED</text>
<text class="h" x="0" y="1372" textLength="48.600" lengthAdjust="spacingAndGlyphs">OUR</text>
<text class="h" x="0" y="1398" textLength="50.600" lengthAdjust="spacingAndGlyphs">SINS.</text>
<text class="h" x="0" y="1423.500" textLength="48" lengthAdjust="spacingAndGlyphs">0-33</text>
<text class="b" x="0" y="1444.700" textLength="48.600" lengthAdjust="spacingAndGlyphs">52:13-</text>
<text class="b" x="0" y="1467" textLength="50" lengthAdjust="spacingAndGlyphs">53:12;</text>
<text class="b" x="2" y="1490" textLength="48.600" lengthAdjust="spacingAndGlyphs">t off,”</text>
<text class="b" x="0" y="1512" textLength="50" lengthAdjust="spacingAndGlyphs">.9:26,</text>
<text class="b" x="4" y="1534.400" textLength="44" lengthAdjust="spacingAndGlyphs">9:17)</text>
<text class="h" x="0" y="500" textLength="8" lengthAdjust="spacingAndGlyphs">”</text>
<text class="b" x="0" y="535" textLength="5" lengthAdjust="spacingAndGlyphs">f</text>
<text class="b" x="0" y="578" textLength="8" lengthAdjust="spacingAndGlyphs">d</text>
</g>
<g id="tribulation-labels">
<ellipse cx="759.500" cy="911.400" rx="17.700" ry="17.700" fill="none" stroke="#231f20" stroke-width="1.500"/>
<text x="746" y="921" textLength="26.600" lengthAdjust="spacingAndGlyphs" font-size="25">4<tspan font-weight="bold" font-style="italic">b</tspan></text>
<text class="b" x="674.500" y="954" textLength="193" lengthAdjust="spacingAndGlyphs">Days of the ten kings</text>
<text class="b" x="674.500" y="976" textLength="161" lengthAdjust="spacingAndGlyphs">in revived Roman</text>
<text class="b" x="674.500" y="998.500" textLength="166" lengthAdjust="spacingAndGlyphs">Empire (Dan. 2:44,</text>
<text class="b" x="674.500" y="1020" textLength="178" lengthAdjust="spacingAndGlyphs">7:23-24, Rev. 17:12).</text>
<text x="726.500" y="1085.600" textLength="89.500" lengthAdjust="spacingAndGlyphs" font-size="21">3.5 YEARS</text>
<text class="s" x="659" y="1117.600" textLength="229.700" lengthAdjust="spacingAndGlyphs">Israel under peace agreement</text>
<text class="s" x="719" y="1135.700" textLength="109" lengthAdjust="spacingAndGlyphs">(1 Thess. 5:2-3)</text>
<text x="1020.500" y="1083" textLength="89.500" lengthAdjust="spacingAndGlyphs" font-size="21">3.5 YEARS</text>
<text class="s" x="944.600" y="1104.800" textLength="213" lengthAdjust="spacingAndGlyphs">Intense persecution against</text>
<text class="s" x="944.600" y="1124" textLength="219" lengthAdjust="spacingAndGlyphs">Jews &amp; Tribulation Christians</text>
<text class="s" x="944.600" y="1143" textLength="164" lengthAdjust="spacingAndGlyphs">(Rev. 12:13-17, 13:5-7)</text>
<text x="685.800" y="1184.600" textLength="197.200" lengthAdjust="spacingAndGlyphs" font-size="22">4b. IRON mixed w/clay</text>
<text class="s w" x="682" y="1208.500" textLength="137" lengthAdjust="spacingAndGlyphs" font-weight="bold" style="font-size:16px">Seal Judgments,</text>
<text class="s w" x="664" y="1223" textLength="186.500" lengthAdjust="spacingAndGlyphs">(Mtt. 24:4-8, Rev. 6:1-8:1)</text>
<text class="s w" x="953" y="1208.500" textLength="232" lengthAdjust="spacingAndGlyphs" font-weight="bold" style="font-size:16px">Trumpet &amp; Bowl Judgments</text>
<text class="s w" x="977" y="1223" textLength="179" lengthAdjust="spacingAndGlyphs">(Mtt. 24:9-31, Rev. 8-16)</text>
<text class="b" x="803.700" y="1304" textLength="254.300" lengthAdjust="spacingAndGlyphs">By this point, Jewish temple</text>
<text class="b" x="803.700" y="1323" textLength="250.300" lengthAdjust="spacingAndGlyphs">will be standing once again</text>
<text class="b" x="803.700" y="1342.500" textLength="223.300" lengthAdjust="spacingAndGlyphs">(2 Thess. 2:4, Rev. 11:1-2).</text>
<text class="h" x="615" y="1378.600" textLength="161.800" lengthAdjust="spacingAndGlyphs">7 YEAR PEACE</text>
<text class="h" x="615" y="1403" textLength="146.600" lengthAdjust="spacingAndGlyphs">AGREEMENT</text>
<text class="b" x="615" y="1424" textLength="137" lengthAdjust="spacingAndGlyphs">made between</text>
<text class="b" x="615" y="1446.700" textLength="87" lengthAdjust="spacingAndGlyphs">Antichrist</text>
<text class="b" x="615" y="1469.400" textLength="91" lengthAdjust="spacingAndGlyphs">and Israel.</text>
<text class="b" x="615" y="1491" textLength="151" lengthAdjust="spacingAndGlyphs">(Dan. 9:27) Many</text>
<text class="b" x="615" y="1513.700" textLength="134" lengthAdjust="spacingAndGlyphs">commentators</text>
<text class="b" x="615" y="1535.800" textLength="173.500" lengthAdjust="spacingAndGlyphs">believe this is what</text>
<text class="b" x="615" y="1558" textLength="168" lengthAdjust="spacingAndGlyphs">will allow the Jews</text>
<text class="b" x="615" y="1580.600" textLength="136" lengthAdjust="spacingAndGlyphs">to rebuild their</text>
<text class="b" x="615" y="1602.800" textLength="68.600" lengthAdjust="spacingAndGlyphs">temple.</text>
<text class="h" x="804" y="1464" textLength="208" lengthAdjust="spacingAndGlyphs">THE TRIBULATION</text>
<text class="h" x="804" y="1489" textLength="194" lengthAdjust="spacingAndGlyphs">PERIOD, 7 YEARS</text>
<text class="b" x="804" y="1515.400" textLength="189" lengthAdjust="spacingAndGlyphs">(Dan. 9:27; Matt.24:9,</text>
<text class="b" x="804" y="1537" textLength="200.500" lengthAdjust="spacingAndGlyphs">Rev. 3:10). Also known</text>
<text class="b" x="804" y="1559" textLength="163.600" lengthAdjust="spacingAndGlyphs">as the “Seventieth</text>
<text class="b" x="804" y="1581" textLength="140.600" lengthAdjust="spacingAndGlyphs">Week [or 7 year</text>
<text class="b" x="804" y="1604" textLength="166" lengthAdjust="spacingAndGlyphs">period] of Daniel”</text>
<text class="b" x="804" y="1626" textLength="129.800" lengthAdjust="spacingAndGlyphs">(Dan. 9:24-27).</text>
<text class="h" x="1016" y="1546" textLength="148" lengthAdjust="spacingAndGlyphs">THE “GREAT”</text>
<text class="h" x="1016" y="1572.500" textLength="157.600" lengthAdjust="spacingAndGlyphs">TRIBULATION</text>
<text class="b" x="1016" y="1594" textLength="179" lengthAdjust="spacingAndGlyphs">(Mtt. 24:21, Rev. 6:1-</text>
<text class="b" x="1016" y="1616" textLength="171.500" lengthAdjust="spacingAndGlyphs">18:24) culminating</text>
<text class="b" x="1016" y="1639" textLength="150" lengthAdjust="spacingAndGlyphs">at Armageddon.</text>
<text class="h" x="1026" y="1693" textLength="180" lengthAdjust="spacingAndGlyphs">ARMAGEDDON</text>
<text class="b" x="837.500" y="1716.400" textLength="368.500" lengthAdjust="spacingAndGlyphs">(Literally: the mount of Megiddo) armies</text>
<text class="b" x="894.800" y="1738.500" textLength="311.200" lengthAdjust="spacingAndGlyphs">from around the world will gather</text>
<text class="b" x="852.700" y="1760" textLength="353.300" lengthAdjust="spacingAndGlyphs">together at Megiddo in N. Israel before</text>
<text class="b" x="789.800" y="1782" textLength="416.200" lengthAdjust="spacingAndGlyphs">launching a massive attack against Jerusalem</text>
<text class="b" x="836.700" y="1805" textLength="369.300" lengthAdjust="spacingAndGlyphs">(Zech. 12:1-3, 14:1-5, Rev. 16:14,16; 19:19)</text>
<text class="h" x="594.700" y="1706" textLength="162.300" lengthAdjust="spacingAndGlyphs">PREPARATION</text>
<text class="h" x="594.700" y="1735" textLength="155.300" lengthAdjust="spacingAndGlyphs">TIME BEFORE</text>
<text class="h" x="594.700" y="1763" textLength="75.900" lengthAdjust="spacingAndGlyphs">PEACE</text>
<text class="h" x="594.700" y="1791" textLength="88.900" lengthAdjust="spacingAndGlyphs">TREATY</text>
<text class="h" x="708.300" y="1845.600" textLength="186.500" lengthAdjust="spacingAndGlyphs">EZEKIEL 38 &amp; 39</text>
<text class="b" x="900.400" y="1845.600" textLength="1142.100" lengthAdjust="spacingAndGlyphs">prophesies about a great military invasion against Israel by countries such as Iran, Libya, Sudan, Turkey, and Russia. This battle</text>
<text class="b" x="708.300" y="1870" textLength="1405.700" lengthAdjust="spacingAndGlyphs">will most likely happen during the first 3.5 years of the Tribulation when Israel is dwelling in the land securely and at peace (see Ezek. 38:11,14). See p. 347</text>
<text class="b" x="708.300" y="1895" textLength="1367.700" lengthAdjust="spacingAndGlyphs">in <tspan class="i">Things to Come</tspan> by Dwight Pentecost where he discusses the problems with the view that this battle occurs prior to, or at the end of, the Tribulation.</text>
</g>
<g id="lower-right-labels">
<text class="h" x="1258.700" y="1302" textLength="188" lengthAdjust="spacingAndGlyphs">THE JUDGMENT</text>
<text class="h" x="1258.700" y="1328" textLength="197.300" lengthAdjust="spacingAndGlyphs">OF THE NATIONS</text>
<g class="b">
<text x="1258.700" y="1350.700" textLength="276.300" lengthAdjust="spacingAndGlyphs">(Matt. 25:31-46) also known as</text>
<text x="1258.700" y="1373" textLength="263.300" lengthAdjust="spacingAndGlyphs">“The Judgment of the Sheep</text>
<text x="1258.700" y="1394.500" textLength="285.300" lengthAdjust="spacingAndGlyphs">(Tribulation believers, v.37) and</text>
<text x="1258.700" y="1417" textLength="225.300" lengthAdjust="spacingAndGlyphs">the Goats (unbelievers).”</text>
<text x="1258.700" y="1439.600" textLength="249.300" lengthAdjust="spacingAndGlyphs">See Mtt. 13:24-31, 13:47-50,</text>
<text x="1258.700" y="1462" textLength="271.800" lengthAdjust="spacingAndGlyphs">Ps. 96:13, Rev. 20:4. Those who</text>
<text x="1258.700" y="1483.800" textLength="223.900" lengthAdjust="spacingAndGlyphs">come to faith during the</text>
<text x="1258.700" y="1505" textLength="225.300" lengthAdjust="spacingAndGlyphs">Tribulation will enter the</text>
<text x="1258.700" y="1528" textLength="186.800" lengthAdjust="spacingAndGlyphs">Millenium Kingdom.</text>
<text x="1258.700" y="1550" textLength="271.800" lengthAdjust="spacingAndGlyphs">Unbelievers will ultimately be</text>
<text x="1258.700" y="1572.600" textLength="194" lengthAdjust="spacingAndGlyphs">cast into “eternal fire”</text>
<text x="1258.700" y="1594.500" textLength="107.300" lengthAdjust="spacingAndGlyphs">(Mtt. 25:41).</text>
</g>
<text class="h" x="1588" y="1368" textLength="209" lengthAdjust="spacingAndGlyphs">SATAN RELEASED,</text>
<g class="b">
<text x="1588" y="1390" textLength="275.500" lengthAdjust="spacingAndGlyphs">“for a short time” at the end of</text>
<text x="1588" y="1412.500" textLength="305" lengthAdjust="spacingAndGlyphs">1,000 years (Rev. 20:3, 7), deceives</text>
<text x="1588" y="1435" textLength="287" lengthAdjust="spacingAndGlyphs">many into going to war against</text>
<text x="1588" y="1457.600" textLength="273.700" lengthAdjust="spacingAndGlyphs">the saints and Jerusalem (v.8),</text>
<text x="1588" y="1479.500" textLength="257" lengthAdjust="spacingAndGlyphs">where they are immediately</text>
<text x="1588" y="1501.800" textLength="279.700" lengthAdjust="spacingAndGlyphs">consumed by fire from heaven</text>
<text x="1588" y="1523" textLength="307.800" lengthAdjust="spacingAndGlyphs">(v.9). Satan is thrown into the lake</text>
<text x="1588" y="1545.600" textLength="110.800" lengthAdjust="spacingAndGlyphs">of fire (v.10).</text>
</g>
<text class="h" x="1923.300" y="1369.600" textLength="104.700" lengthAdjust="spacingAndGlyphs">PRESENT</text>
<text class="h" x="1923.300" y="1395" textLength="132.700" lengthAdjust="spacingAndGlyphs">HEAVENS &amp;</text>
<text class="h" x="1923.300" y="1420" textLength="137.200" lengthAdjust="spacingAndGlyphs">EARTH “ARE</text>
<text class="h" x="1923.300" y="1446" textLength="66.700" lengthAdjust="spacingAndGlyphs">TO BE</text>
<text class="h" x="1923.300" y="1471.800" textLength="158.100" lengthAdjust="spacingAndGlyphs">DESTROYED.”</text>
<text class="b" x="1923.300" y="1494" textLength="126.700" lengthAdjust="spacingAndGlyphs">(2 Ptr. 3:10-12,</text>
<text class="b" x="1923.300" y="1516" textLength="80.700" lengthAdjust="spacingAndGlyphs">Isa. 34:4).</text>
<text class="h" x="1248" y="1643.400" textLength="142" lengthAdjust="spacingAndGlyphs">ANTICHRIST</text>
<text class="b" x="1395" y="1643.400" textLength="34" lengthAdjust="spacingAndGlyphs">and</text>
<text class="b" x="1248" y="1668" textLength="189" lengthAdjust="spacingAndGlyphs">false prophet thrown</text>
<text class="b" x="1248" y="1689" textLength="167.600" lengthAdjust="spacingAndGlyphs">into the lake of fire</text>
<text class="b" x="1248" y="1711" textLength="208" lengthAdjust="spacingAndGlyphs">(Rev.19:20). Armies that</text>
<text class="b" x="1248" y="1733.600" textLength="192.700" lengthAdjust="spacingAndGlyphs">attacked Israel will be</text>
<text class="b" x="1248" y="1756" textLength="149.600" lengthAdjust="spacingAndGlyphs">destroyed (Zech.</text>
<text class="b" x="1248" y="1784" textLength="86.700" lengthAdjust="spacingAndGlyphs">14:12-15).</text>
<text class="h" x="1339" y="1784" textLength="101.700" lengthAdjust="spacingAndGlyphs">SATAN IS</text>
<text class="h" x="1248" y="1813" textLength="88.500" lengthAdjust="spacingAndGlyphs">BOUND</text>
<text class="b" x="1343.700" y="1813" textLength="110.800" lengthAdjust="spacingAndGlyphs">(Rev. 20:2-3).</text>
<text class="h" x="1483" y="1618.500" textLength="526.600" lengthAdjust="spacingAndGlyphs">RESURRECTION OF TRIBULATION MARTYRS</text>
<text class="b" x="2018.600" y="1618.500" textLength="94.400" lengthAdjust="spacingAndGlyphs">(Rev. 20:4)</text>
<text class="h" x="1483" y="1644" textLength="308" lengthAdjust="spacingAndGlyphs">&amp; OLD TESTAMENT SAINTS</text>
<text class="b" x="1797.600" y="1644" textLength="318.400" lengthAdjust="spacingAndGlyphs">(Dan. 12:1-2, Isa. 26:19, Jn. 5:28-29a)</text>
<g class="b">
<text x="1483" y="1668" textLength="626" lengthAdjust="spacingAndGlyphs">This resurrection is only “first” (Rev. 20:5) in the sense that it will be</text>
<text x="1483" y="1690" textLength="619" lengthAdjust="spacingAndGlyphs"><tspan class="i">before</tspan> the resurrection of the wicked (Rev. 20:12-13). The resur-</text>
<text x="1483" y="1712" textLength="626" lengthAdjust="spacingAndGlyphs">rection of martyrs and OT saints will occur <tspan class="i">after</tspan> the Second Coming</text>
<text x="1483" y="1733.600" textLength="631" lengthAdjust="spacingAndGlyphs">(Rev. 19:11-21) and <tspan class="i">prior</tspan> to the Millennium (Rev. 20:2-6). Concerning</text>
<text x="1483" y="1756" textLength="626" lengthAdjust="spacingAndGlyphs">the timing of the OT saints resurrection, Dan.12:1 makes it clear</text>
<text x="1483" y="1778.600" textLength="448.700" lengthAdjust="spacingAndGlyphs">that it will happen after the “time of distress.”</text>
</g>
</g>
</svg>
